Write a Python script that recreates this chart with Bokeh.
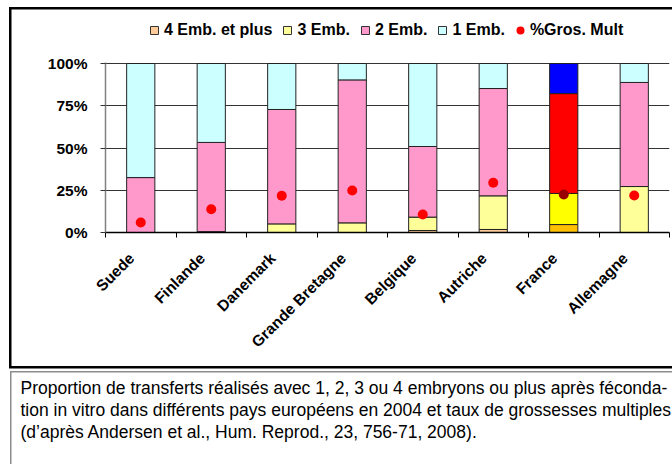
import math
from bokeh.plotting import figure
from bokeh.layouts import column
from bokeh.models import (ColumnDataSource, Range1d, LinearAxis,
                          FixedTicker, Legend, LegendItem, Title)
from bokeh.embed import file_html
from bokeh.resources import INLINE

countries = ["Suede", "Finlande", "Danemark", "Grande Bretagne", "Belgique", "Autriche", "France", "Allemagne"]
emb4 = [0.0, 0.0, 0.0, 0.0, 1.2, 1.8, 4.7, 0.0]
emb3 = [0.0, 0.5, 5.1, 5.7, 7.9, 19.9, 18.4, 27.2]
emb2 = [32.5, 52.8, 67.7, 84.6, 41.8, 63.5, 59.1, 61.6]
emb1 = [67.5, 46.7, 27.2, 9.7, 49.1, 14.8, 17.8, 11.2]
gros_mult = [5.9, 13.8, 21.7, 24.9, 10.7, 29.4, 22.5, 21.9]
y_ticks = [0, 25, 50, 75, 100]
y_tick_labels = ["0%", "25%", "50%", "75%", "100%"]
series_names = ["4 Emb. et plus", "3 Emb.", "2 Emb.", "1 Emb."]
dot_name = "%Gros. Mult"
caption_lines = [
    "Proportion de transferts réalisés avec 1, 2, 3 ou 4 embryons ou plus après féconda-",
    "tion in vitro dans différents pays européens en 2004 et taux de grossesses multiples",
    "(d’après Andersen et al., Hum. Reprod., 23, 756-71, 2008).",
]

normal_colors = ["#FFCC99", "#FFFF99", "#FF99CC", "#CCFFFF"]
france_colors = ["#FFC000", "#FFFF00", "#FF0000", "#0000FF"]
dot_normal = "#FF0000"
dot_france = "#990000"
highlight = "France"

n = len(countries)
xpos = [i + 0.5 for i in range(n)]          # category slots on the x scale
label_pos = [round(x - 0.13, 3) for x in xpos]  # slanted labels end slightly left of the slot centre
layers = [emb4, emb3, emb2, emb1]
data = {"x": xpos, "country": countries, "mult": gros_mult,
        "dot_color": [dot_france if c == highlight else dot_normal for c in countries]}
cum = [0.0] * n
for k, layer in enumerate(layers):
    data[f"b{k}"] = list(cum)
    cum = [a + b for a, b in zip(cum, layer)]
    data[f"t{k}"] = list(cum)
    data[f"c{k}"] = [france_colors[k] if c == highlight else normal_colors[k] for c in countries]
src = ColumnDataSource(data)

FONT = "Liberation Sans"
W = 672
H_TOP, H_MAIN, H_CAP = 48, 322, 94
FRAME_LEFT = 105


def css_bg(parts):
    return {"background": ", ".join(parts + ["#ffffff"])}


def bare_figure(h, **kw):
    f = figure(width=W, height=h, x_range=Range1d(0, W), y_range=Range1d(0, h),
               output_backend="svg", toolbar_location=None,
               x_axis_location=None, y_axis_location=None,
               min_border_left=0, min_border_right=0, **kw)
    f.grid.visible = False
    f.outline_line_color = None
    f.background_fill_alpha = 0
    f.border_fill_alpha = 0
    return f


# ---------- legend strip ----------
top = bare_figure(H_TOP, min_border_top=0, min_border_bottom=0)
top.styles = css_bg([
    "linear-gradient(#000,#000) 9px 6.5px / 700px 2.5px no-repeat",
    "linear-gradient(#000,#000) 9px 6.5px / 2.5px 60px no-repeat",
])
nan_src = ColumnDataSource({"x": [float("nan")], "y": [float("nan")]})
swatches = [top.scatter(x="x", y="y", source=nan_src, marker="square", size=8,
                        fill_color=c, line_color="#333333") for c in normal_colors]
dot_swatch = top.scatter(x="x", y="y", source=nan_src, marker="circle", size=9,
                         fill_color=dot_normal, line_color=None)
items = [LegendItem(label=nm, renderers=[r], index=0) for nm, r in zip(series_names, swatches)]
items.append(LegendItem(label=dot_name, renderers=[dot_swatch], index=0))
leg = Legend(items=items, orientation="horizontal", location=(144 - FRAME_LEFT, 8),
             glyph_width=20, glyph_height=20, label_standoff=0, spacing=5,
             padding=0, margin=0, label_height=20,
             label_text_font=FONT, label_text_font_style="bold", label_text_font_size="16px",
             label_text_color="black",
             border_line_color=None, background_fill_alpha=0)
top.add_layout(leg, "center")

# ---------- main chart ----------
p = figure(x_range=Range1d(0, n), y_range=Range1d(0, 100.6),
           width=W, height=H_MAIN, output_backend="svg", toolbar_location=None,
           x_axis_location=None, min_border_left=FRAME_LEFT, min_border_right=3,
           min_border_top=14, min_border_bottom=138)
p.styles = css_bg([
    "linear-gradient(#000,#000) 9px 0px / 2.5px 320px no-repeat",
    "linear-gradient(#000,#000) 9px 317.5px / 700px 2.5px no-repeat",
])
p.background_fill_alpha = 0
p.border_fill_alpha = 0
p.outline_line_color = None
p.xgrid.grid_line_color = None
p.ygrid.ticker = FixedTicker(ticks=y_ticks)
p.ygrid.grid_line_color = "#333333"
p.ygrid.grid_line_width = 1

yax = p.yaxis[0]
yax.ticker = FixedTicker(ticks=y_ticks)
yax.major_label_overrides = {t: l for t, l in zip(y_ticks, y_tick_labels)}
yax.axis_line_color = "#808080"
yax.axis_line_width = 1.5
yax.major_tick_line_color = "#333333"
yax.major_tick_out = 5
yax.major_tick_in = 0
yax.minor_tick_line_color = None
yax.major_label_text_font = FONT
yax.major_label_text_font_style = "bold"
yax.major_label_text_font_size = "15.5px"
yax.major_label_text_color = "black"
yax.major_label_standoff = 13

tick_axis = LinearAxis(ticker=FixedTicker(ticks=list(range(n + 1))),
                       major_label_text_font_size="0px", major_label_standoff=0,
                       axis_line_color="black", axis_line_width=1.5,
                       major_tick_line_color="black", major_tick_out=5, major_tick_in=0,
                       minor_tick_line_color=None)
tick_axis.major_label_overrides = {i: "" for i in range(n + 1)}
p.add_layout(tick_axis, "below")

lab_axis = LinearAxis(ticker=FixedTicker(ticks=label_pos),
                      axis_line_color=None, major_tick_line_color=None,
                      minor_tick_line_color=None,
                      major_label_orientation=math.pi / 4,
                      major_label_text_font=FONT, major_label_text_font_style="bold",
                      major_label_text_font_size="15.5px", major_label_text_color="black",
                      major_label_standoff=12)
lab_axis.major_label_overrides = {x: c for x, c in zip(label_pos, countries)}
p.add_layout(lab_axis, "below")

for k in range(4):
    p.vbar(x="x", bottom=f"b{k}", top=f"t{k}", width=0.4, source=src,
           fill_color=f"c{k}", line_color="#222222", line_width=1)
p.scatter(x="x", y="mult", source=src, size=10, fill_color="dot_color",
          line_color=None, marker="circle")

# ---------- caption ----------
cap = bare_figure(H_CAP, min_border_top=0, min_border_bottom=H_CAP - 6)
cap.styles = css_bg([
    "linear-gradient(#8c8c8c,#8c8c8c) 10px 0.5px / 700px 1.5px no-repeat",
    "linear-gradient(#8c8c8c,#8c8c8c) 10px 0.5px / 1.5px 200px no-repeat",
])
for line in caption_lines:
    cap.add_layout(Title(text=line, align="left", offset=20 - FRAME_LEFT,
                         vertical_align="middle", text_font=FONT, text_font_style="normal",
                         text_font_size="17.5px", text_color="black", standoff=0), "below")

layout = column(top, p, cap, spacing=0)
open("out.html", "w").write(file_html(layout, INLINE))
